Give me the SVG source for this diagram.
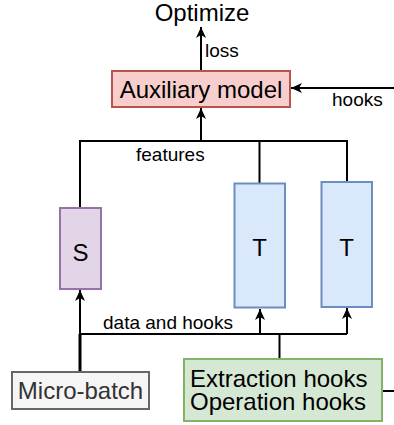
<svg xmlns="http://www.w3.org/2000/svg" width="394" height="425" viewBox="0 0 394 425">
<style>
text{font-family:"Liberation Sans",Arial,Helvetica,sans-serif;fill:#000}
.big{font-size:24px}
.small{font-size:19px}
.ln{stroke:#000;stroke-width:2;fill:none}
</style>
<defs>
<marker id="arr" markerUnits="userSpaceOnUse" markerWidth="12" markerHeight="12" viewBox="0 0 12 12" refX="11" refY="6" orient="auto">
<path d="M0,1 L11,6 L0,11 L3,6 z" fill="#000"/>
</marker>
</defs>
<rect width="394" height="425" fill="#fff"/>
<g id="connectors">
<path class="ln" d="M201,71 V27" marker-end="url(#arr)"/>
<path class="ln" d="M394,88 H291" marker-end="url(#arr)"/>
<path class="ln" d="M80,208 V141 H347 V182 M259.5,141 V183"/>
<path class="ln" d="M201,141 V108" marker-end="url(#arr)"/>
<path d="M80,372 V334" stroke="#000" stroke-width="3" fill="none"/>
<path class="ln" d="M80,334 V290" marker-end="url(#arr)"/>
<path class="ln" d="M80,334 H347"/>
<path class="ln" d="M260,334 V309" marker-end="url(#arr)"/>
<path class="ln" d="M347,334 V308" marker-end="url(#arr)"/>
<path class="ln" d="M279.5,334 V359"/>
<path class="ln" d="M382,391 H394"/>
<text class="small" x="205" y="57">loss</text>
<text class="small" x="332" y="106">hooks</text>
<text class="small" x="136" y="160.5">features</text>
<text class="small" x="103" y="329">data and hooks</text>
</g>
<g id="optimize">
<text class="big" x="202" y="21" text-anchor="middle">Optimize</text>
</g>
<g id="auxiliary">
<rect x="112" y="71" width="178" height="36" fill="#f8cecc" stroke="#b85450" stroke-width="2"/>
<text class="big" x="201" y="97.5" text-anchor="middle">Auxiliary model</text>
</g>
<g id="s">
<rect x="60" y="208" width="41" height="81" fill="#e1d5e7" stroke="#9673a6" stroke-width="2"/>
<text class="big" x="80.5" y="260.5" text-anchor="middle">S</text>
</g>
<g id="t1">
<rect x="234.5" y="183.5" width="50.5" height="124" fill="#dae8fc" stroke="#6c8ebf" stroke-width="2"/>
<text class="big" x="259.5" y="256" text-anchor="middle">T</text>
</g>
<g id="t2">
<rect x="321.5" y="182" width="50.5" height="125" fill="#dae8fc" stroke="#6c8ebf" stroke-width="2"/>
<text class="big" x="346.5" y="256" text-anchor="middle">T</text>
</g>
<g id="microbatch">
<rect x="12" y="372" width="137" height="37" fill="#f5f5f5" stroke="#666666" stroke-width="2"/>
<text class="big" x="80.5" y="399" text-anchor="middle" style="fill:#333">Micro-batch</text>
</g>
<g id="hooks">
<rect x="184" y="359" width="198" height="62" fill="#d5e8d4" stroke="#82b366" stroke-width="2"/>
<text class="big" x="190" y="387">Extraction hooks</text>
<text class="big" x="190" y="410">Operation hooks</text>
</g>
</svg>
